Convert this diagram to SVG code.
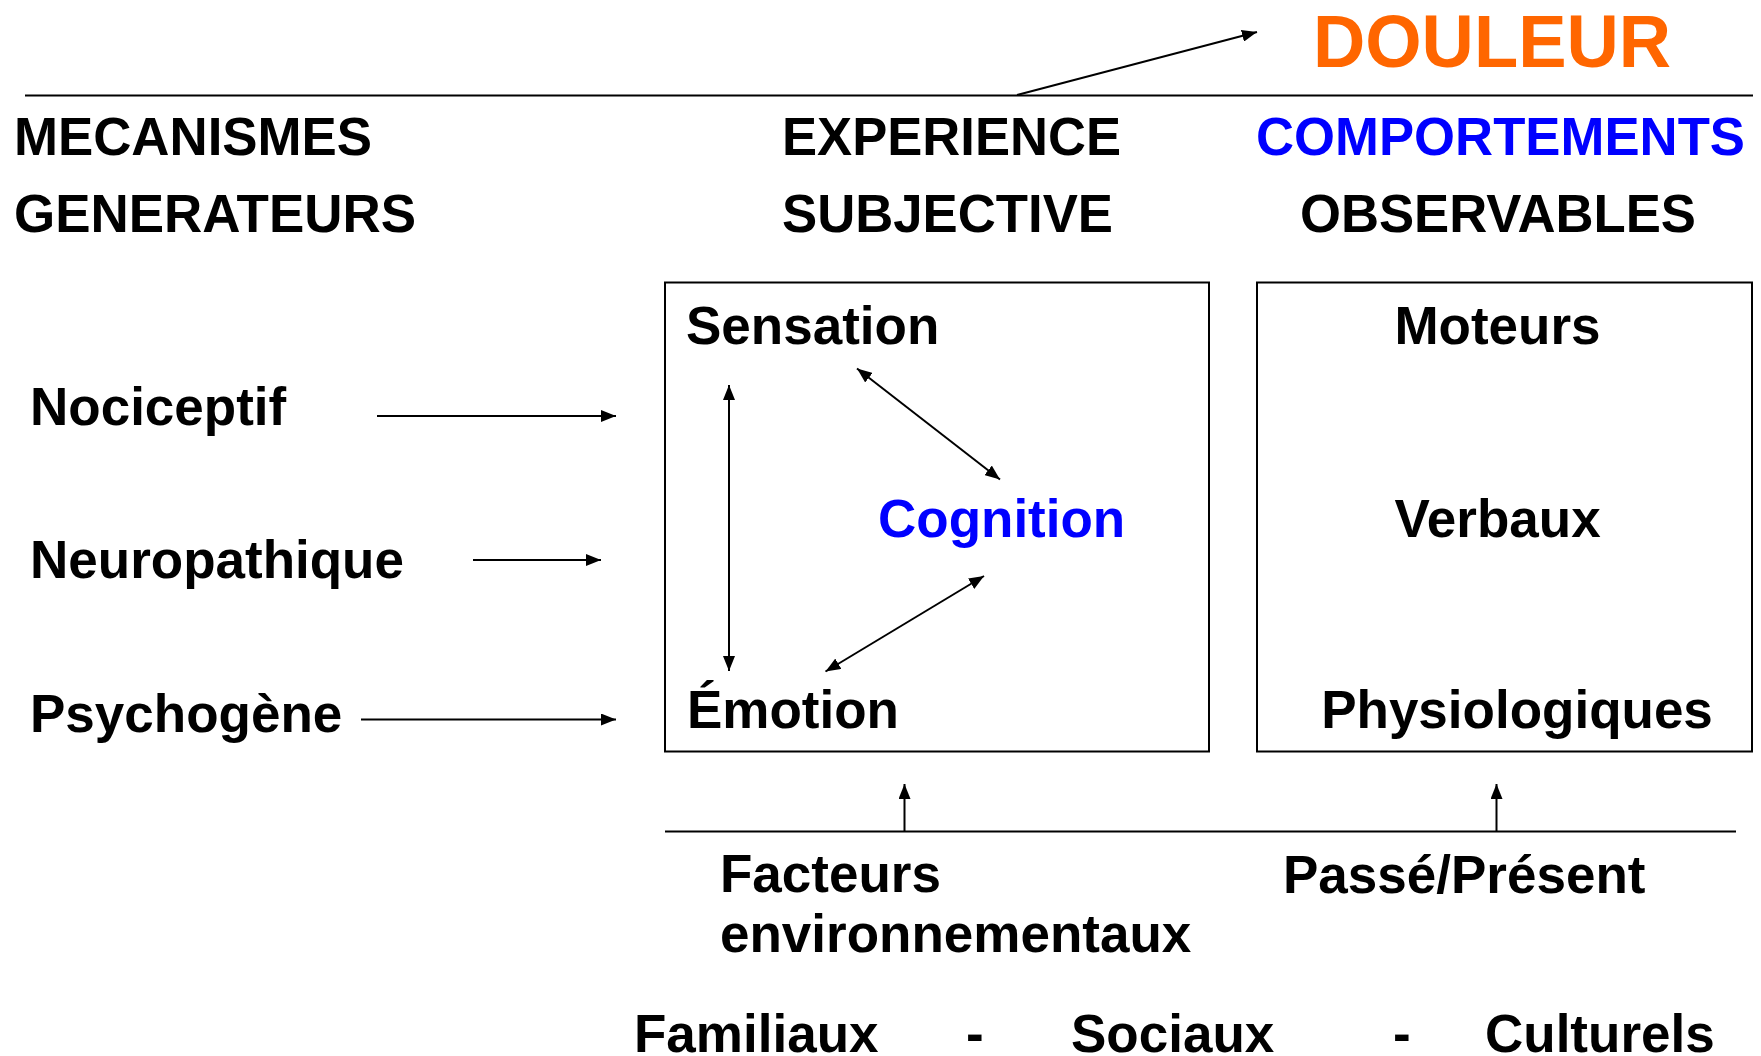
<svg xmlns="http://www.w3.org/2000/svg" width="1761" height="1056" viewBox="0 0 1761 1056">
<style>
text{font-family:"Liberation Sans",Arial,Helvetica,sans-serif;font-weight:bold;fill:#000}
.h{font-size:54px}
.b{font-size:53px}
.blue{fill:#0000FF}
.orange{fill:#FF6600}
.ln{stroke:#000;stroke-width:2;fill:none}
.box{stroke:#000;stroke-width:2;fill:#fff}
.ar{marker-end:url(#ah)}
.dar{marker-end:url(#ah);marker-start:url(#ah)}
</style>
<defs>
<marker id="ah" viewBox="0 0 15 12" refX="15" refY="6" markerWidth="15" markerHeight="12" markerUnits="userSpaceOnUse" orient="auto-start-reverse">
<path d="M0,0 L15,6 L0,12 z" fill="#000"/>
</marker>
</defs>
<rect width="1761" height="1056" fill="#fff"/>

<g id="title">
<text class="orange" x="1313" y="67" font-size="75" textLength="358" lengthAdjust="spacingAndGlyphs">DOULEUR</text>
</g>
<g id="header-mecanismes">
<text class="h" x="14" y="155" textLength="358" lengthAdjust="spacingAndGlyphs">MECANISMES</text>
<text class="h" x="14" y="232" textLength="402" lengthAdjust="spacingAndGlyphs">GENERATEURS</text>
</g>
<g id="header-experience">
<text class="h" x="782" y="155" textLength="339" lengthAdjust="spacingAndGlyphs">EXPERIENCE</text>
<text class="h" x="782" y="232" textLength="331" lengthAdjust="spacingAndGlyphs">SUBJECTIVE</text>
</g>
<g id="header-comportements">
<text class="h blue" x="1256" y="155" textLength="489" lengthAdjust="spacingAndGlyphs">COMPORTEMENTS</text>
<text class="h" x="1300" y="232" textLength="396" lengthAdjust="spacingAndGlyphs">OBSERVABLES</text>
</g>

<g id="nociceptif"><text class="b" x="30" y="425">Nociceptif</text></g>
<g id="neuropathique"><text class="b" x="30" y="578">Neuropathique</text></g>
<g id="psychogene"><text class="b" x="30" y="732">Psychogène</text></g>

<g id="experience-box">
<rect class="box" x="665" y="282.5" width="544" height="469"/>
<text class="b" x="686" y="344">Sensation</text>
<text class="b blue" x="878" y="537">Cognition</text>
<text class="b" x="687" y="728">Émotion</text>
</g>

<g id="comportements-box">
<rect class="box" x="1257" y="282.5" width="495" height="469"/>
<text class="b" x="1497.5" y="344" text-anchor="middle">Moteurs</text>
<text class="b" x="1497.5" y="537" text-anchor="middle">Verbaux</text>
<text class="b" x="1517" y="728" text-anchor="middle">Physiologiques</text>
</g>

<g id="facteurs">
<text class="b" x="720" y="892">Facteurs</text>
<text class="b" x="720" y="952">environnementaux</text>
</g>
<g id="passe-present"><text class="b" x="1283" y="893">Passé/Présent</text></g>
<g id="familiaux"><text class="b" x="634" y="1052">Familiaux</text></g>
<g id="sep1"><text class="b" x="966" y="1052">-</text></g>
<g id="sociaux"><text class="b" x="1071" y="1052">Sociaux</text></g>
<g id="sep2"><text class="b" x="1393" y="1052">-</text></g>
<g id="culturels"><text class="b" x="1485" y="1052">Culturels</text></g>

<g id="connectors">
<line class="ln" x1="25" y1="95.5" x2="1753" y2="95.5"/>
<line class="ln ar" x1="1017" y1="95" x2="1257" y2="32"/>
<line class="ln ar" x1="377" y1="416" x2="616" y2="416"/>
<line class="ln ar" x1="473" y1="560" x2="601" y2="560"/>
<line class="ln ar" x1="361" y1="719.5" x2="616" y2="719.5"/>
<line class="ln dar" x1="729" y1="385" x2="729" y2="671"/>
<line class="ln dar" x1="857" y1="368.5" x2="1000" y2="479.5"/>
<line class="ln dar" x1="984" y1="576" x2="825.5" y2="671.5"/>
<line class="ln" x1="665" y1="831.5" x2="1736" y2="831.5"/>
<line class="ln ar" x1="904.5" y1="831.5" x2="904.5" y2="784"/>
<line class="ln ar" x1="1496.5" y1="831.5" x2="1496.5" y2="784"/>
</g>
</svg>
